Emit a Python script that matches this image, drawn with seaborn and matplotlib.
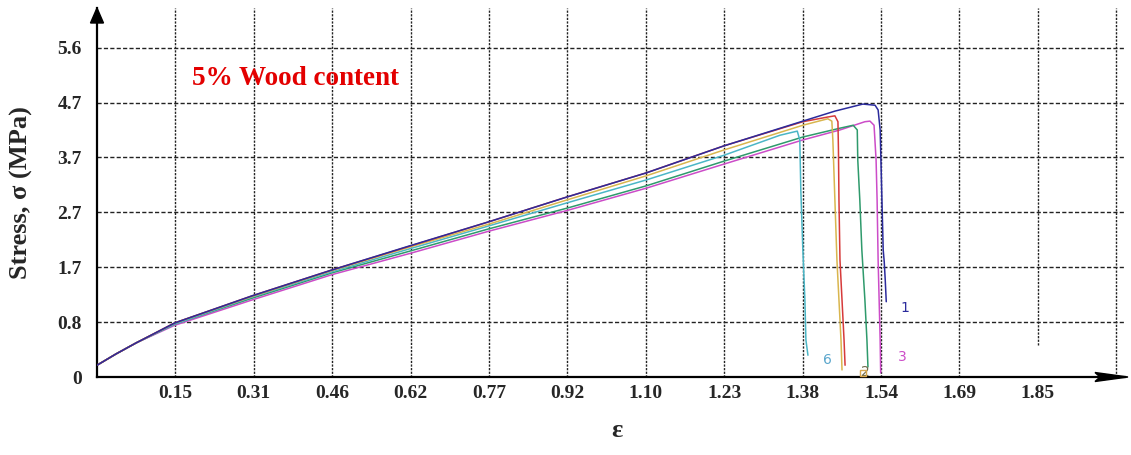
import matplotlib
matplotlib.use("Agg")
import matplotlib.pyplot as plt
from matplotlib.patches import Polygon
import pandas as pd
import seaborn as sns

# Grid spacing of the strain / stress axes and the printed tick labels
eps_step = 1.85 / 12
sig_step = 5.6 / 6
x_tick_labels = ["0.15", "0.31", "0.46", "0.62", "0.77", "0.92", "1.10",
                 "1.23", "1.38", "1.54", "1.69", "1.85", ""]
y_tick_labels = ["0", "0.8", "1.7", "2.7", "3.7", "4.7", "5.6"]

# Stress-strain records of the six specimens (strain, stress in MPa)
eps_1 = [0.0, 0.037, 0.077, 0.153, 0.305, 0.462, 0.615, 0.771, 0.924, 1.080, 1.233,
         1.388, 1.451, 1.506, 1.530, 1.536, 1.540, 1.542, 1.544, 1.546, 1.548, 1.550, 1.552]
sig_1 = [0.20, 0.39, 0.58, 0.92, 1.38, 1.82, 2.23, 2.64, 3.06, 3.47, 3.93,
         4.35, 4.52, 4.64, 4.62, 4.54, 4.20, 3.52, 2.84, 2.16, 1.96, 1.65, 1.28]

eps_2 = [0.0, 0.037, 0.077, 0.153, 0.305, 0.462, 0.615, 0.771, 0.924, 1.080, 1.233,
         1.388, 1.461, 1.487, 1.495, 1.496, 1.500, 1.504, 1.510, 1.514, 1.516]
sig_2 = [0.20, 0.39, 0.58, 0.90, 1.34, 1.77, 2.14, 2.52, 2.87, 3.25, 3.67,
         4.08, 4.23, 4.28, 4.20, 3.69, 3.01, 2.16, 1.31, 0.63, 0.17]

eps_3 = [0.0, 0.037, 0.077, 0.153, 0.305, 0.462, 0.615, 0.771, 0.924, 1.080, 1.233,
         1.388, 1.461, 1.510, 1.520, 1.528, 1.532, 1.534, 1.536, 1.538, 1.540, 1.541]
sig_3 = [0.20, 0.39, 0.58, 0.88, 1.31, 1.74, 2.10, 2.48, 2.83, 3.21, 3.62,
         4.03, 4.20, 4.34, 4.35, 4.28, 3.69, 3.01, 1.99, 1.31, 0.63, 0.07]

eps_4 = [0.0, 0.037, 0.077, 0.153, 0.305, 0.462, 0.617, 0.771, 0.924, 1.080, 1.233,
         1.388, 1.437, 1.451, 1.457, 1.458, 1.459, 1.461, 1.465, 1.469, 1.471]
sig_4 = [0.20, 0.39, 0.58, 0.92, 1.38, 1.82, 2.23, 2.64, 3.06, 3.47, 3.93,
         4.34, 4.42, 4.44, 4.34, 3.86, 3.01, 1.99, 1.31, 0.63, 0.20]

eps_5 = [0.0, 0.037, 0.077, 0.153, 0.305, 0.462, 0.615, 0.771, 0.924, 1.080, 1.233,
         1.388, 1.437, 1.445, 1.447, 1.451, 1.455, 1.459, 1.463, 1.465]
sig_5 = [0.20, 0.39, 0.58, 0.92, 1.37, 1.81, 2.21, 2.60, 3.01, 3.42, 3.86,
         4.28, 4.39, 4.35, 4.03, 3.01, 1.99, 1.31, 0.63, 0.12]

eps_6 = [0.0, 0.037, 0.077, 0.153, 0.305, 0.462, 0.615, 0.771, 0.924, 1.080, 1.233,
         1.343, 1.377, 1.382, 1.384, 1.388, 1.392, 1.394, 1.398]
sig_6 = [0.20, 0.39, 0.58, 0.90, 1.36, 1.79, 2.18, 2.57, 2.96, 3.35, 3.77,
         4.11, 4.18, 4.03, 3.18, 2.16, 1.31, 0.63, 0.37]

records = {"3": (eps_3, sig_3), "2": (eps_2, sig_2), "6": (eps_6, sig_6),
           "5": (eps_5, sig_5), "4": (eps_4, sig_4), "1": (eps_1, sig_1)}
colors = {"1": "#2b2b9c", "2": "#2f9a6c", "3": "#cc4cc8",
          "4": "#d63a3a", "5": "#d9b64e", "6": "#4bb6c6"}

# Curve number tags placed near the failure ends
tag_names = ["1", "6", "3", "2"]
tag_eps = [1.589, 1.437, 1.583, 1.510]
tag_sig = [1.17, 0.29, 0.34, 0.09]
tag_colors = ["#2b2b9c", "#5aa6cc", "#cc4cc8", "#6e6a4a"]

rows = []
for name, (e, s) in records.items():
    for i, (ei, si) in enumerate(zip(e, s)):
        rows.append({"specimen": name, "eps": ei, "sig": si, "idx": i})
df = pd.DataFrame(rows)

sns.set_style("white")
plt.rcParams["font.family"] = ["Liberation Serif", "DejaVu Serif"]

W, H = 1131, 455
fig = plt.figure(figsize=(W / 100, H / 100), dpi=100)
x0, x1, y0, y1 = 97, 1125, 78, 447  # axes box in pixels (from bottom-left)
ax = fig.add_axes([x0 / W, y0 / H, (x1 - x0) / W, (y1 - y0) / H])

px_eps = eps_step / 78.4
px_sig = sig_step / 54.9
ax.set_xlim(0, (x1 - x0) * px_eps)
ax.set_ylim(0, (y1 - y0) * px_sig)

# dashed grid
xt = [eps_step * (k + 1) for k in range(len(x_tick_labels))]
yt = [sig_step * j for j in range(len(y_tick_labels))]
for k, xv in enumerate(xt):
    ymin = 0.087 if x_tick_labels[k] == "1.85" else 0.0
    ax.axvline(xv, ymin=ymin, ymax=1, color="#222222", lw=1.0,
               ls=(0, (1.6, 1.0)), zorder=1)
for yv in yt[1:]:
    ax.axhline(yv, color="#222222", lw=1.0, ls=(0, (3.0, 1.6)), zorder=1)

sns.lineplot(data=df, x="eps", y="sig", hue="specimen", palette=colors,
             hue_order=list(records.keys()), estimator=None, sort=False,
             units="specimen", linewidth=1.1, legend=False, ax=ax, zorder=3)

for n, e, s, c in zip(tag_names, tag_eps, tag_sig, tag_colors):
    ax.text(e, s, n, color=c, fontsize=10, family="DejaVu Sans",
            ha="center", va="center", zorder=4)
ax.plot([1.506], [0.06], marker="s", ms=4.5, mfc="none", mec="#d9a84e",
        mew=1.0, zorder=4)

ax.set_xticks(xt)
ax.set_xticklabels(x_tick_labels)
ax.set_yticks(yt)
ax.set_yticklabels(y_tick_labels)
ax.tick_params(axis="x", length=0, pad=6.0, labelsize=14)
ax.tick_params(axis="y", length=0, pad=10.8, labelsize=14)
for lab in ax.get_xticklabels() + ax.get_yticklabels():
    lab.set_fontweight("bold")

for side in ["top", "right"]:
    ax.spines[side].set_visible(False)
for side in ["left", "bottom"]:
    ax.spines[side].set_color("black")
    ax.spines[side].set_linewidth(1.6)

ax.set_xlabel("ε", fontsize=19, fontweight="bold")
ax.set_ylabel("Stress, σ (MPa)", fontsize=19, fontweight="bold")
ax.xaxis.set_label_coords(0.506, -0.114)
ax.yaxis.set_label_coords(-0.062, 0.5)

ax.text(0.0924, 0.791, "5% Wood content", transform=ax.transAxes,
        color="#e30000", fontsize=19.5, fontweight="bold", va="baseline", ha="left")

# axis arrowheads
yarrow = [(97, 455 - 8), (90.5, 455 - 23), (103.5, 455 - 23)]
xarrow = [(1128, 78), (1095, 73.5), (1100, 78), (1095, 82.5)]
for pts in (yarrow, xarrow):
    fig.patches.append(Polygon([(px / W, py / H) for px, py in pts], closed=True,
                               facecolor="black", edgecolor="black",
                               transform=fig.transFigure, figure=fig))

fig.savefig("out.png", dpi=100, facecolor="white")
